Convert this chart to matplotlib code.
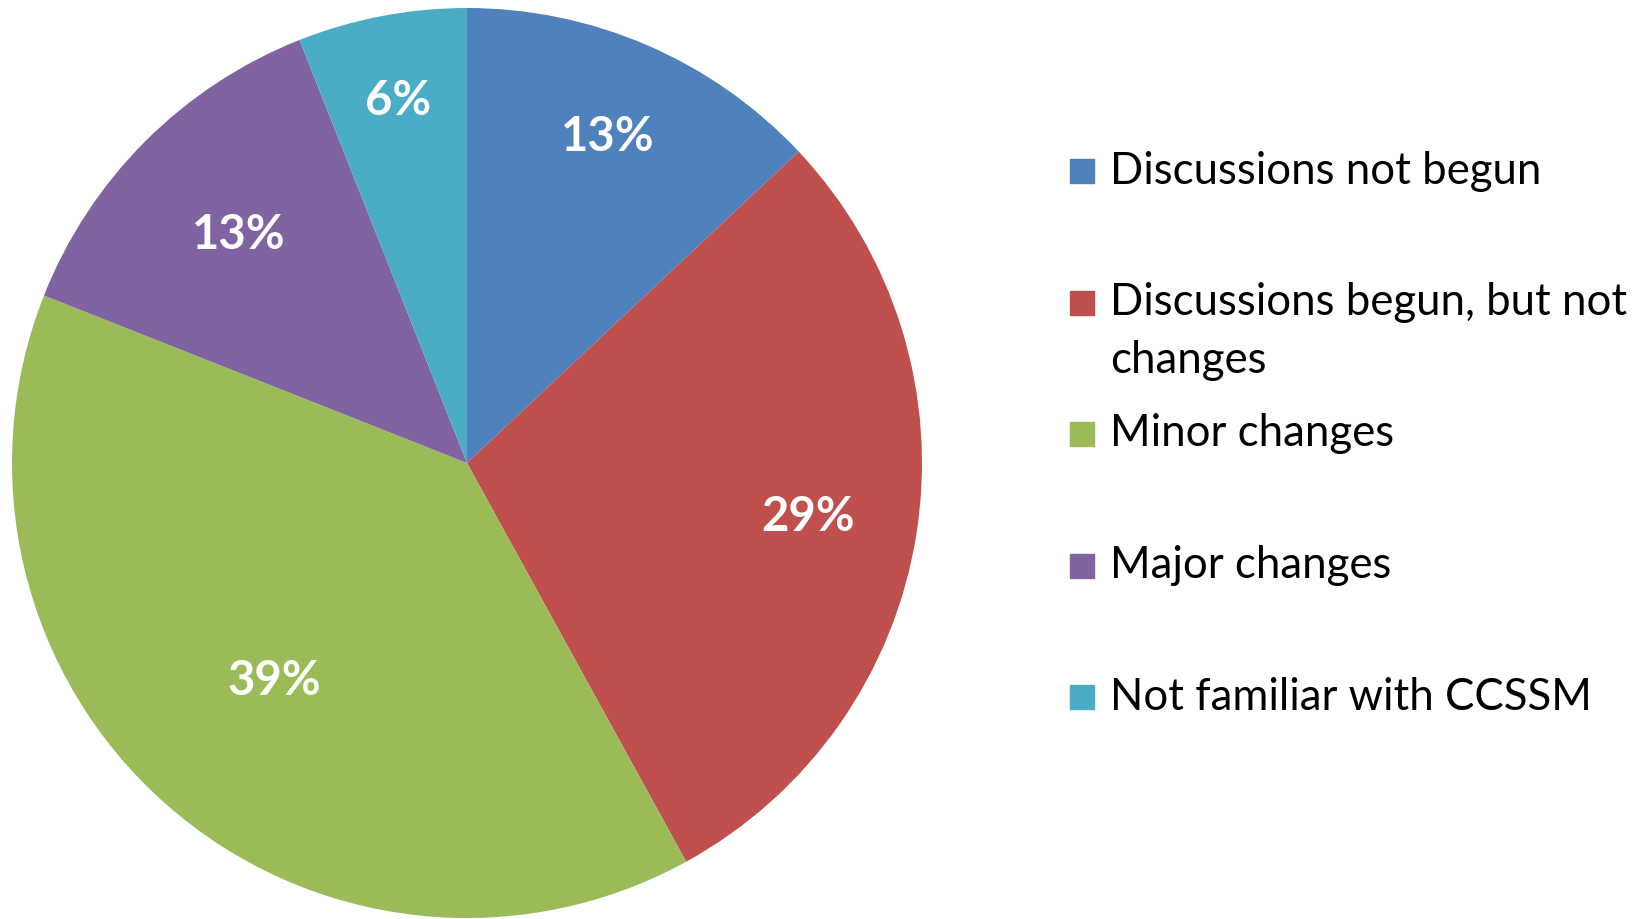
import numpy as np
import matplotlib.pyplot as plt
from matplotlib.patches import Rectangle

categories = ['Discussions not begun', 'Discussions begun, but not\nchanges',
              'Minor changes', 'Major changes', 'Not familiar with CCSSM']
shares = [13, 29, 39, 13, 6]
colors = ['#4F81BD', '#C0504D', '#9BBB59', '#8064A2', '#4BACC6']
# how far out (fraction of radius) each percentage sits
label_dist = [0.78, 0.76, 0.64, 0.71, 0.81]

plt.rcParams['font.family'] = ['Lato', 'DejaVu Sans']

W, H = 1650, 919
fig = plt.figure(figsize=(W / 100, H / 100), dpi=100)

# pie: centre (467, 463) px from top-left, radius 455 px
cx, cy, r = 467, 463, 455
ax = fig.add_axes([(cx - r) / W, (H - cy - r) / H, 2 * r / W, 2 * r / H])
wedges, texts, autotexts = ax.pie(
    shares, colors=colors, startangle=90, counterclock=False,
    autopct=lambda p: f'{p:.0f}%', pctdistance=0.74,
    wedgeprops=dict(linewidth=0))
for w, t, d in zip(wedges, autotexts, label_dist):
    mid = np.deg2rad((w.theta1 + w.theta2) / 2)
    t.set_position((d * np.cos(mid), d * np.sin(mid)))
    t.set_color('white')
    t.set_fontsize(34)
    t.set_fontweight('bold')
ax.set_xlim(-1, 1)
ax.set_ylim(-1, 1)
ax.set_aspect('equal')
ax.axis('off')

# legend drawn by hand, one slot per entry
top, step = 171, 131.5
for i, (lab, col) in enumerate(zip(categories, colors)):
    y = top + i * step
    fig.patches.append(Rectangle((1070 / W, (H - y - 12) / H), 24 / W, 24 / H,
                                 transform=fig.transFigure, color=col))
    for j, line in enumerate(lab.split('\n')):
        fig.text(1110 / W, (H - y - 58 * j) / H, line, fontsize=31.5, va='center')

fig.savefig('out.png', dpi=100, facecolor='white')
